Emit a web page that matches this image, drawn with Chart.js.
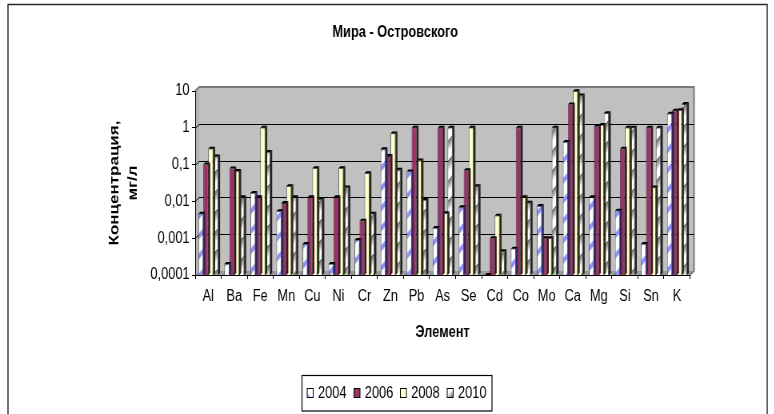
<!DOCTYPE html>
<html>
<head>
<meta charset="utf-8">
<script src="https://cdn.jsdelivr.net/npm/chart.js@4.4.1/dist/chart.umd.min.js"></script>
<style>
  html, body { margin: 0; padding: 0; background: #fff; overflow: hidden; width: 774px; height: 414px; }
  /* the chart is laid out wide and narrowed horizontally, giving the condensed lettering */
  #wrap { position: absolute; left: 0; top: 0; width: 968px; height: 414px; transform: scaleX(0.8); transform-origin: 0 0; }
</style>
</head>
<body>
<div id="wrap"><canvas id="chart"></canvas></div>
<script>
// ---- data ----
const categories = ['Al','Ba','Fe','Mn','Cu','Ni','Cr','Zn','Pb','As','Se','Cd','Co','Mo','Ca','Mg','Si','Sn','K'];
const years = ['2004', '2006', '2008', '2010'];
const values2004 = [0.0046, 0.0002, 0.017, 0.0054, 0.0007, 0.0002, 0.0009, 0.26, 0.065, 0.0019, 0.0069, 0.0001, 0.00052, 0.0075, 0.41, 0.013, 0.0056, 0.0007, 2.4];
const values2006 = [0.1, 0.078, 0.013, 0.009, 0.013, 0.013, 0.003, 0.17, 1, 1, 0.07, 0.001, 1, 0.001, 4.3, 1.1, 0.27, 1, 2.9];
const values2008 = [0.27, 0.067, 1, 0.026, 0.08, 0.08, 0.058, 0.7, 0.13, 0.0048, 1, 0.0041, 0.013, 0.001, 9.8, 1.2, 1, 0.024, 3.0];
const values2010 = [0.165, 0.013, 0.22, 0.013, 0.0115, 0.024, 0.0046, 0.072, 0.011, 1, 0.026, 0.00044, 0.0092, 1, 7.5, 2.5, 1, 1, 4.4];
const yTickValues = [0.0001, 0.001, 0.01, 0.1, 1, 10];
const yTickLabels = ['0,0001', '0,001', '0,01', '0,1', '1', '10'];
const chartTitle = 'Мира - Островского';
const xTitle = 'Элемент';
const yTitle = ['Концентрация,', 'мг/л'];

// ---- styling ----
const FONT = '"Liberation Sans", Arial, Helvetica, sans-serif';
Chart.defaults.font.family = FONT;
Chart.defaults.font.size = 16;
Chart.defaults.color = '#000';

const WALL = { dx: 5, dy: 4 };     // depth of the back wall
const DEPTH = { dx: 2.5, dy: 2 };  // depth of each column

// diagonal repeating fill: t runs 0..1 across each band
function diagonalPattern(period, shade) {
  const c = document.createElement('canvas');
  c.width = period; c.height = period;
  const g = c.getContext('2d');
  const img = g.createImageData(period, period);
  for (let j = 0; j < period; j++) {
    for (let i = 0; i < period; i++) {
      const t = (((i + j) % period) + period) % period / period;
      const [r, gg, b] = shade(t);
      const k = (j * period + i) * 4;
      img.data[k] = r; img.data[k + 1] = gg; img.data[k + 2] = b; img.data[k + 3] = 255;
    }
  }
  g.putImageData(img, 0, 0);
  return g.createPattern(c, 'repeat');
}
const ctx0 = document.getElementById('chart').getContext('2d');
const fill2004 = diagonalPattern(20, t => {
  // blue band with soft edges on white
  const d = Math.abs(t - 0.2);
  const a = d < 0.1 ? 1 : d < 0.2 ? 1 - (d - 0.1) / 0.1 : 0;
  return [255 - a * 110, 255 - a * 110, 255];
});
const fill2010 = diagonalPattern(20, t => {
  // grey ramp fading to white
  const v = t < 0.55 ? 110 + (t / 0.55) * 145 : 255;
  return [v, v, v];
});
const fills = [fill2004, '#993366', '#FFFFCC', fill2010];
const sideColors = ['#2a2a55', '#3d1226', '#2b2b1a', '#222222'];

const datasets = [values2004, values2006, values2008, values2010].map((vals, i) => ({
  label: years[i],
  data: vals,
  backgroundColor: fills[i],
  borderColor: 'rgba(0,0,0,0.7)',
  borderWidth: 0.8,
  barPercentage: 1.0,
  categoryPercentage: 0.76
}));

const scenePlugin = {
  id: 'scene',
  beforeDraw(chart) {
    const { ctx, chartArea: a, scales: { y } } = chart;
    ctx.save();
    // outer frame
    ctx.strokeStyle = '#2a2a2a';
    ctx.lineWidth = 1.5;
    ctx.strokeRect(10, 4.5, 949, 440);
    // main title
    ctx.fillStyle = '#000';
    ctx.font = 'bold 16px ' + FONT;
    ctx.textAlign = 'center';
    ctx.textBaseline = 'middle';
    ctx.fillText(chartTitle, 494, 32.5);

    const L = a.left, R = a.right, T = a.top, B = a.bottom;
    // back wall
    ctx.fillStyle = '#c0c0c0';
    ctx.fillRect(L + WALL.dx, T - WALL.dy, R - L, B - T);
    // side wall
    ctx.fillStyle = '#b4b4b4';
    ctx.beginPath();
    ctx.moveTo(L, T); ctx.lineTo(L + WALL.dx, T - WALL.dy);
    ctx.lineTo(L + WALL.dx, B - WALL.dy); ctx.lineTo(L, B);
    ctx.closePath(); ctx.fill();
    // floor
    ctx.fillStyle = '#9a9a9a';
    ctx.beginPath();
    ctx.moveTo(L, B); ctx.lineTo(L + WALL.dx, B - WALL.dy);
    ctx.lineTo(R + WALL.dx, B - WALL.dy); ctx.lineTo(R, B);
    ctx.closePath(); ctx.fill();
    // wall edges
    ctx.strokeStyle = '#7a7a7a';
    ctx.lineWidth = 2;
    ctx.beginPath();
    ctx.moveTo(L, T); ctx.lineTo(L + WALL.dx, T - WALL.dy);
    ctx.lineTo(R + WALL.dx, T - WALL.dy); ctx.lineTo(R + WALL.dx, B - WALL.dy);
    ctx.lineTo(R, B);
    ctx.stroke();
    // gridlines on the walls
    ctx.strokeStyle = '#000';
    ctx.lineWidth = 1;
    yTickValues.forEach(v => {
      if (v === yTickValues[0] || v === yTickValues[yTickValues.length - 1]) return;
      const py = Math.round(y.getPixelForValue(v)) + 0.5;
      ctx.beginPath();
      ctx.moveTo(L, py);
      ctx.lineTo(L + WALL.dx, py - WALL.dy);
      ctx.lineTo(R + WALL.dx, py - WALL.dy);
      ctx.stroke();
    });
    ctx.restore();
  },
  // top and right faces of each column, drawn before its front face
  beforeDatasetDraw(chart, args) {
    const ctx = chart.ctx;
    ctx.save();
    args.meta.data.forEach(el => {
      const { x, y, base, width } = el;
      const l = x - width / 2, r = x + width / 2;
      ctx.fillStyle = sideColors[args.index];
      ctx.beginPath();
      ctx.moveTo(r, y); ctx.lineTo(r + DEPTH.dx, y - DEPTH.dy);
      ctx.lineTo(r + DEPTH.dx, base - DEPTH.dy); ctx.lineTo(r, base);
      ctx.closePath(); ctx.fill();
      ctx.fillStyle = '#000';
      ctx.beginPath();
      ctx.moveTo(l, y); ctx.lineTo(l + DEPTH.dx, y - DEPTH.dy);
      ctx.lineTo(r + DEPTH.dx, y - DEPTH.dy); ctx.lineTo(r, y);
      ctx.closePath(); ctx.fill();
    });
    ctx.restore();
  },
  afterDraw(chart) {
    const { ctx, chartArea: a } = chart;
    ctx.save();
    ctx.fillStyle = '#000';
    ctx.textAlign = 'center';
    ctx.textBaseline = 'middle';
    // x axis title
    ctx.font = 'bold 16px ' + FONT;
    ctx.fillText(xTitle, (a.left + a.right) / 2, 333);
    // y axis title, two lines rotated
    ctx.font = 'bold 17px ' + FONT;
    const cy = (a.top + a.bottom) / 2;
    [143.5, 166.5].forEach((cx, i) => {
      ctx.save();
      ctx.translate(cx, cy);
      ctx.rotate(-Math.PI / 2);
      ctx.fillText(yTitle[i], 0, 0);
      ctx.restore();
    });
    // legend
    ctx.strokeStyle = '#000';
    ctx.lineWidth = 1.2;
    ctx.strokeRect(377.5, 375.5, 237.5, 35.5);
    const swatchX = [384, 442.5, 500.5, 559];
    ctx.font = '16px ' + FONT;
    ctx.textAlign = 'left';
    years.forEach((yr, i) => {
      const sx = swatchX[i], sy = 388.5, sw = 7.5, sh = 9;
      let f = fills[i];
      if (i === 0) {
        f = ctx.createLinearGradient(sx, sy + sh, sx + sw, sy);
        f.addColorStop(0, '#8f8fff'); f.addColorStop(0.45, '#ffffff'); f.addColorStop(1, '#ffffff');
      } else if (i === 3) {
        f = ctx.createLinearGradient(sx + sw, sy + sh, sx, sy);
        f.addColorStop(0, '#555555'); f.addColorStop(0.6, '#ffffff'); f.addColorStop(1, '#ffffff');
      }
      ctx.fillStyle = f;
      ctx.fillRect(sx, sy, sw, sh);
      ctx.lineWidth = 1;
      ctx.strokeRect(sx, sy, sw, sh);
      ctx.fillStyle = '#000';
      ctx.fillText(yr, sx + 13.5, 393.5);
    });
    ctx.restore();
  }
};

new Chart(ctx0, {
  type: 'bar',
  data: { labels: categories, datasets },
  options: {
    responsive: true,
    maintainAspectRatio: false,
    animation: false,
    devicePixelRatio: 1,
    layout: { padding: { left: 184, top: 91, right: 105.5, bottom: 99 } },
    plugins: { legend: { display: false }, title: { display: false }, tooltip: { enabled: false } },
    scales: {
      x: {
        type: 'category',
        offset: true,
        grid: { display: true, offset: true, drawOnChartArea: false, drawTicks: true, tickLength: 4, color: '#000' },
        border: { display: true, color: '#000', width: 1 },
        ticks: { autoSkip: false, maxRotation: 0, minRotation: 0, padding: 8, font: { size: 16 } },
        afterFit(scale) { scale.height = 40; }
      },
      y: {
        type: 'logarithmic',
        min: yTickValues[0],
        max: yTickValues[yTickValues.length - 1],
        grid: { display: true, drawOnChartArea: false, drawTicks: true, tickLength: 4, color: '#000' },
        border: { display: true, color: '#000', width: 1 },
        ticks: {
          padding: 3,
          font: { size: 16 },
          callback(value) {
            const i = yTickValues.indexOf(value);
            return i >= 0 ? yTickLabels[i] : '';
          }
        },
        afterBuildTicks(scale) { scale.ticks = yTickValues.map(v => ({ value: v })); },
        afterFit(scale) { scale.width = 60; }
      }
    }
  },
  plugins: [scenePlugin]
});
</script>
</body>
</html>
